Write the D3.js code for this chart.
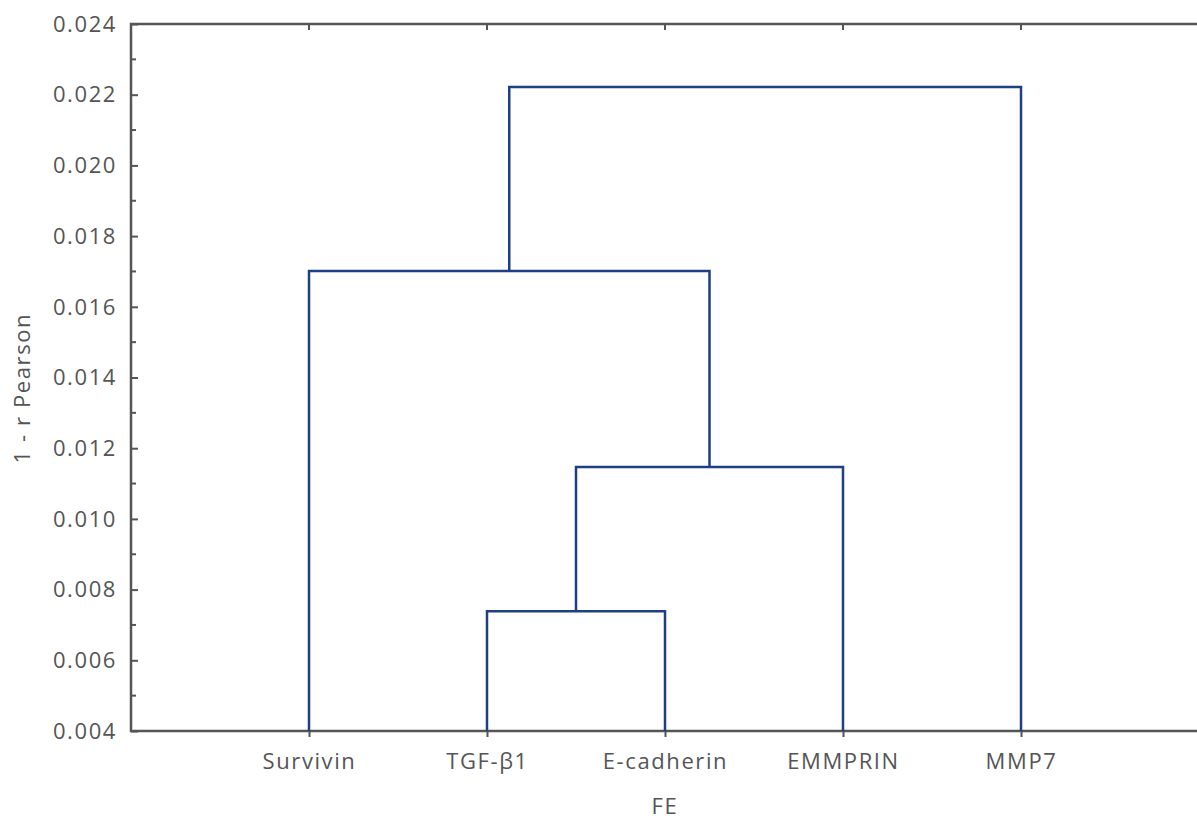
<!DOCTYPE html>
<html>
<head>
<meta charset="utf-8">
<script src="https://cdn.jsdelivr.net/npm/d3@7"></script>
<style>
  body { margin: 0; background: #fff; }
  text { font-family: "Open Sans", sans-serif; fill: #555; letter-spacing: 1.6px; }
</style>
</head>
<body>
<svg></svg>
<script>
const width = 1197,
      height = 819

// leaf order along the x axis
const leaves = ["Survivin", "TGF-β1", "E-cadherin", "EMMPRIN", "MMP7"]

// merges: [left, right, height]; ids >= 5 refer to earlier merges
const merges = [
  [1, 2, 0.00739],
  [5, 3, 0.01147],
  [0, 6, 0.01701],
  [7, 4, 0.02222]
]

const yTicks = [0.004, 0.006, 0.008, 0.010, 0.012, 0.014, 0.016, 0.018, 0.020, 0.022, 0.024]

const margin = {left: 131, top: 24, bottom: 88}
const fontSize = "22px"

const svg = d3.select("svg")
  .attr("width", width)
  .attr("height", height)

const x = d3.scalePoint()
  .domain(leaves)
  .range([margin.left, 1199])
  .padding(1)

const y = d3.scaleLinear()
  .domain([0.004, 0.024])
  .range([height - margin.bottom, margin.top])

const axisColor = "#555"

// y axis, ticks pointing inward
const yAxis = svg.append("g")
  .attr("transform", `translate(${margin.left},0)`)
  .call(d3.axisRight(y).tickValues(yTicks).tickSize(7).tickFormat(""))
yAxis.select(".domain").remove()
yAxis.selectAll("line").attr("stroke", axisColor).attr("stroke-width", 2)

const minor = d3.range(5, 24, 2).map(d => d / 1000)
svg.append("g").selectAll("line")
  .data(minor)
  .enter().append("line")
    .attr("x1", margin.left)
    .attr("x2", margin.left + 5)
    .attr("y1", d => y(d))
    .attr("y2", d => y(d))
    .attr("stroke", axisColor)
    .attr("stroke-width", 2)

svg.append("g").selectAll("text")
  .data(yTicks)
  .enter().append("text")
    .attr("x", margin.left - 14)
    .attr("y", d => y(d))
    .attr("dy", "0.35em")
    .attr("text-anchor", "end")
    .style("font-size", fontSize)
    .text(d3.format(".3f"))

// bottom axis
const xAxis = svg.append("g")
  .attr("transform", `translate(0,${y(0.004)})`)
  .call(d3.axisBottom(x).tickSize(6).tickPadding(16))
xAxis.select(".domain").remove()
xAxis.selectAll("line").attr("stroke", axisColor).attr("stroke-width", 2)
xAxis.selectAll("text")
  .style("font-size", fontSize)
  .style("font-family", "'Open Sans', sans-serif")
  .attr("fill", "#555")

// top axis ticks pointing inward
svg.append("g").selectAll("line")
  .data(leaves)
  .enter().append("line")
    .attr("x1", d => x(d))
    .attr("x2", d => x(d))
    .attr("y1", y(0.024))
    .attr("y2", y(0.024) + 6)
    .attr("stroke", axisColor)
    .attr("stroke-width", 2)

// frame lines
svg.append("path")
  .attr("d", `M${width},${y(0.024)}H${margin.left}V${y(0.004)}H${width}`)
  .attr("fill", "none")
  .attr("stroke", axisColor)
  .attr("stroke-width", 2.5)

// dendrogram
const nodes = leaves.map(d => ({x: x(d), h: 0.004}))
const links = []
merges.forEach(([a, b, h]) => {
  const l = nodes[a], r = nodes[b]
  links.push(`M${l.x},${y(l.h)}V${y(h)}H${r.x}V${y(r.h)}`)
  nodes.push({x: (l.x + r.x) / 2, h: h})
})

svg.append("g").selectAll("path")
  .data(links)
  .enter().append("path")
    .attr("d", d => d)
    .attr("fill", "none")
    .attr("stroke", "#1f3f84")
    .attr("stroke-width", 2.5)

// axis titles
svg.append("text")
  .attr("x", x("E-cadherin"))
  .attr("y", 806)
  .attr("dy", "0.35em")
  .attr("text-anchor", "middle")
  .style("font-size", fontSize)
  .text("FE")

svg.append("text")
  .attr("transform", `translate(22,${y(0.0137)}) rotate(-90)`)
  .attr("dy", "0.35em")
  .attr("text-anchor", "middle")
  .style("font-size", fontSize)
  .text("1 - r Pearson")
</script>
</body>
</html>
